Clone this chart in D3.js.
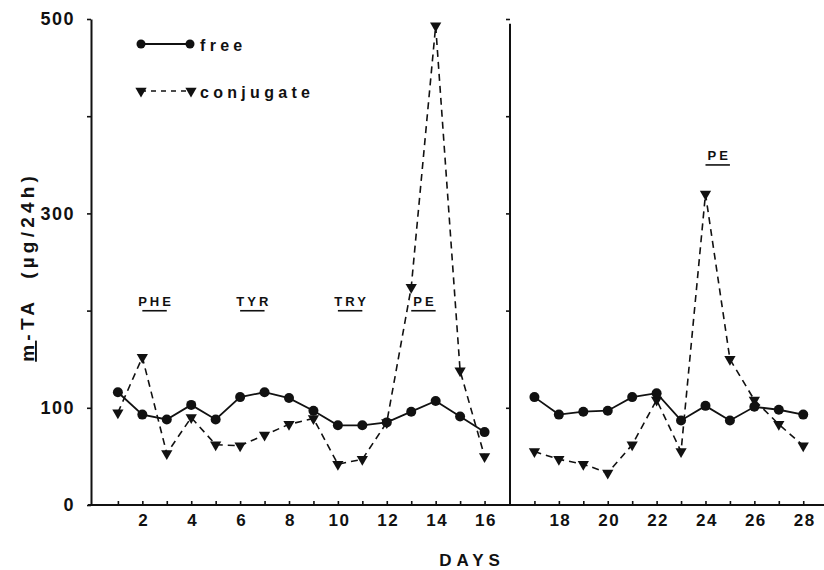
<!DOCTYPE html>
<html>
<head>
<meta charset="utf-8">
<script src="https://cdn.jsdelivr.net/npm/d3@7"></script>
<style>
  html, body { margin: 0; padding: 0; background: #fff; }
  svg { display: block; }
  text { font-family: "Liberation Sans", Arial, sans-serif; fill: #111; }
</style>
</head>
<body>
<svg id="chart" width="824" height="570"></svg>
<script>
// Daily urinary m-tyramine excretion (µg/24h), two study periods
const daysA = [1,2,3,4,5,6,7,8,9,10,11,12,13,14,15,16];
const freeA = [116,93,88,103,88,111,116,110,97,82,82,85,96,107,91,75];
const conjA = [95,152,53,90,62,61,72,83,89,42,47,85,224,493,138,50];

const daysB = [17,18,19,20,21,22,23,24,25,26,27,28];
const freeB = [111,93,96,97,111,115,87,102,87,101,98,93];
const conjB = [55,47,42,33,62,108,55,320,150,108,83,61];

const yTicks = [0,100,200,300,400,500];
const yLabels = [0,100,300,500];

// Amino-acid load periods: label, first day, last day, panel
const loads = [
  {label: "PHE", from: 2, to: 3, panel: "A"},
  {label: "TYR", from: 6, to: 7, panel: "A"},
  {label: "TRY", from: 10, to: 11, panel: "A"},
  {label: "PE",  from: 13, to: 14, panel: "A"},
  {label: "PE",  from: 24, to: 25, panel: "B"}
];

const svg = d3.select("#chart");
const ink = "#111";

const y = d3.scaleLinear().domain([0, 500]).range([505, 19]);
const xA = d3.scaleLinear().domain([-0.1, 17]).range([91, 509]);
const xB = d3.scaleLinear().domain([16, 28.85]).range([510, 824]);

// baseline
svg.append("line")
  .attr("x1", 88).attr("x2", 824)
  .attr("y1", y(0)).attr("y2", y(0))
  .attr("stroke", ink).attr("stroke-width", 2);

// day ticks + labels
function xAxis(scale, days) {
  const g = svg.append("g").attr("transform", `translate(0,${y(0)})`)
    .call(d3.axisBottom(scale).tickValues(days)
      .tickSizeInner(-4).tickSizeOuter(0).tickPadding(9)
      .tickFormat(d => d % 2 === 0 ? d : ""));
  g.select(".domain").remove();
  g.selectAll(".tick line").attr("stroke", ink).attr("stroke-width", 1.6);
  g.selectAll(".tick text")
    .attr("font-size", 17).attr("font-weight", "bold")
    .attr("letter-spacing", 1.5).attr("dx", 1).attr("dy", "0.71em").attr("fill", ink);
}
xAxis(xA, daysA);
xAxis(xB, daysB);

// left y axis
const gyA = svg.append("g").attr("transform", `translate(${xA(-0.1)},0)`)
  .call(d3.axisLeft(y).tickValues(yTicks).tickSizeInner(4).tickSizeOuter(0)
    .tickPadding(12).tickFormat(d => yLabels.includes(d) ? d : ""));
gyA.select(".domain").attr("stroke", ink).attr("stroke-width", 2);
gyA.selectAll(".tick line").attr("stroke", ink).attr("stroke-width", 1.6);
gyA.selectAll(".tick text")
  .attr("font-size", 18).attr("font-weight", "bold")
  .attr("letter-spacing", 1.5).attr("fill", ink);

// right panel y axis (ticks only)
const gyB = svg.append("g").attr("transform", `translate(${xB(16)},0)`)
  .call(d3.axisLeft(y).tickValues(yTicks.slice(1)).tickSizeInner(4)
    .tickSizeOuter(0).tickFormat(""));
gyB.select(".domain").attr("stroke", ink).attr("stroke-width", 2)
  .attr("d", `M0,${y(0)}V${y(495)}`);
gyB.selectAll(".tick line").attr("stroke", ink).attr("stroke-width", 1.6);

// y axis title
const yt = svg.append("text")
  .attr("transform", `translate(34,${y(245)}) rotate(-90)`)
  .attr("text-anchor", "middle")
  .attr("font-size", 19).attr("font-weight", "bold")
  .attr("letter-spacing", 4.2);
yt.append("tspan").attr("text-decoration", "underline").text("m");
yt.append("tspan").text("-TA\u00a0\u00a0(µg/24h)");

// x axis title
svg.append("text")
  .attr("x", 472).attr("y", 566)
  .attr("text-anchor", "middle")
  .attr("font-size", 17).attr("font-weight", "bold")
  .attr("letter-spacing", 5)
  .text("DAYS");

// markers
const tri = d3.symbol().type(d3.symbolTriangle).size(55);
function series(scale, days, vals, dashed) {
  const pts = days.map((d, i) => [scale(d), y(vals[i])]);
  svg.append("path")
    .attr("d", d3.line()(pts))
    .attr("fill", "none").attr("stroke", ink)
    .attr("stroke-width", dashed ? 1.6 : 1.8)
    .attr("stroke-dasharray", dashed ? "7,5" : null);
  if (dashed) {
    svg.append("g").selectAll("path").data(pts).join("path")
      .attr("d", tri)
      .attr("transform", p => `translate(${p[0]},${p[1]}) rotate(180)`)
      .attr("fill", ink);
  } else {
    svg.append("g").selectAll("circle").data(pts).join("circle")
      .attr("cx", p => p[0]).attr("cy", p => p[1]).attr("r", 5)
      .attr("fill", ink);
  }
}
series(xA, daysA, conjA, true);
series(xB, daysB, conjB, true);
series(xA, daysA, freeA, false);
series(xB, daysB, freeB, false);

// load period labels
loads.forEach(l => {
  const sc = l.panel === "A" ? xA : xB;
  const x1 = sc(l.from), x2 = sc(l.to);
  const base = l.panel === "A" ? y(205) : y(355);
  svg.append("text")
    .attr("x", (x1 + x2) / 2 + 1.5).attr("y", base)
    .attr("text-anchor", "middle")
    .attr("font-size", 13).attr("font-weight", "bold")
    .attr("letter-spacing", 3)
    .text(l.label);
  svg.append("line")
    .attr("x1", x1).attr("x2", x2)
    .attr("y1", base + 5).attr("y2", base + 5)
    .attr("stroke", ink).attr("stroke-width", 1.6);
});

// legend
const lg = svg.append("g");
lg.append("line").attr("x1", 141).attr("x2", 190).attr("y1", 44).attr("y2", 44)
  .attr("stroke", ink).attr("stroke-width", 1.8);
lg.selectAll("circle").data([141, 190]).join("circle")
  .attr("cx", d => d).attr("cy", 44).attr("r", 4.5).attr("fill", ink);
lg.append("text").attr("x", 200).attr("y", 51)
  .attr("font-size", 16).attr("font-weight", "bold").attr("letter-spacing", 4.3)
  .text("free");
lg.append("line").attr("x1", 141).attr("x2", 191).attr("y1", 91).attr("y2", 91)
  .attr("stroke", ink).attr("stroke-width", 1.6).attr("stroke-dasharray", "5,5");
lg.selectAll("path").data([141, 191]).join("path")
  .attr("d", tri)
  .attr("transform", d => `translate(${d},91) rotate(180)`)
  .attr("fill", ink);
lg.append("text").attr("x", 200).attr("y", 98)
  .attr("font-size", 16).attr("font-weight", "bold").attr("letter-spacing", 4.3)
  .text("conjugate");
</script>
</body>
</html>
